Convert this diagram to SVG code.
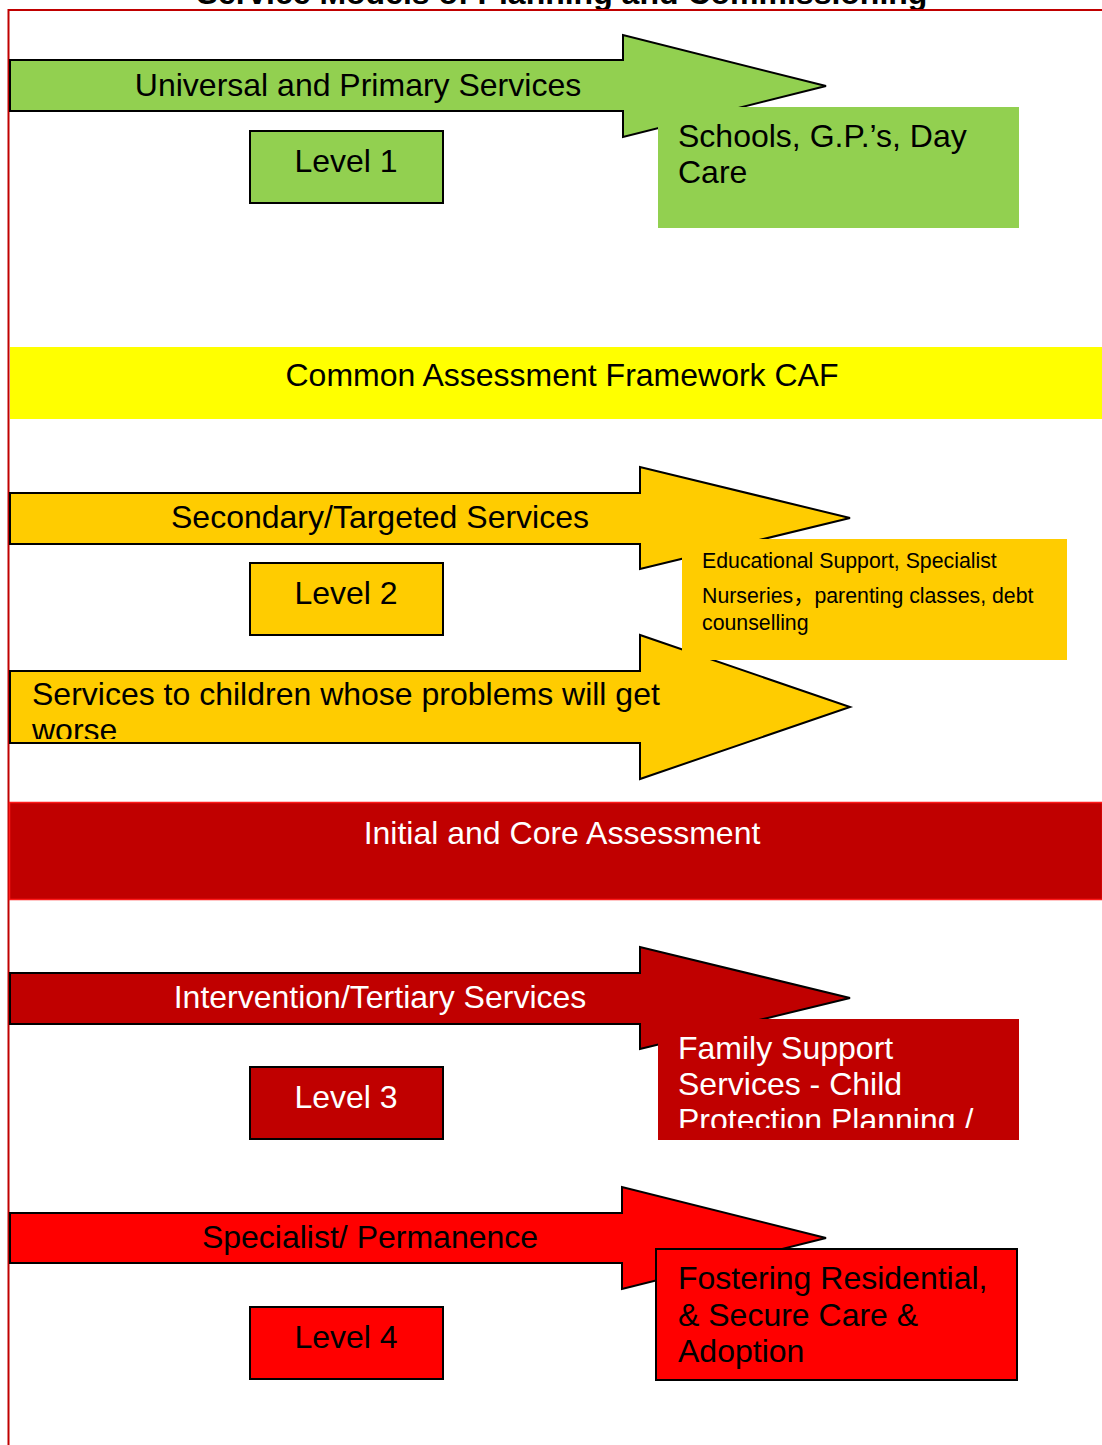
<svg xmlns="http://www.w3.org/2000/svg" width="1102" height="1445" viewBox="0 0 1102 1445">
<style>
text{font-family:"Liberation Sans",Arial,"Noto Sans CJK SC",sans-serif;font-size:32px;fill:#000}
.w{fill:#fff}
.c{text-anchor:middle}
.arr{stroke:#000;stroke-width:2;stroke-linejoin:miter}
.lvl{stroke:#000;stroke-width:2}
.g{fill:#92d050}.o{fill:#ffcc00}.d{fill:#c00000}.r{fill:#ff0000}
.s{font-size:21.3px}
</style>
<defs>
<clipPath id="clipWorse"><rect x="10" y="660" width="700" height="79"/></clipPath>
<clipPath id="clipFam"><rect x="658" y="1019" width="361" height="109"/></clipPath>
</defs>
<rect width="1102" height="1445" fill="#fff"/>
<text class="c" x="562" y="4" style="font-weight:bold;font-size:32px">Service Models of Planning and Commissioning</text>
<g id="frame"><path d="M8.5 1445V10H1102" fill="none" stroke="#c00000" stroke-width="2"/></g>

<g id="connectors">
<g id="arrow-universal">
<polygon class="arr g" points="10,60 623,60 623,35 826,86 623,137 623,111 10,111"/>
<text class="c" x="358" y="96">Universal and Primary Services</text>
</g>
<g id="arrow-secondary">
<polygon class="arr o" points="10,493 640,493 640,467 850,518 640,569 640,544 10,544"/>
<text class="c" x="380" y="528">Secondary/Targeted Services</text>
</g>
<g id="arrow-worse">
<polygon class="arr o" points="10,671 640,671 640,635 850,707 640,779 640,743 10,743"/>
<g clip-path="url(#clipWorse)">
<text x="32" y="705">Services to children whose problems will get</text>
<text x="32" y="741">worse</text>
</g>
</g>
<g id="arrow-intervention">
<polygon class="arr d" points="10,973 640,973 640,947 850,998 640,1049 640,1024 10,1024"/>
<text class="c w" x="380" y="1008">Intervention/Tertiary Services</text>
</g>
<g id="arrow-specialist">
<polygon class="arr r" points="10,1213 622,1213 622,1187 826,1238 622,1289 622,1263 10,1263"/>
<text class="c" x="370" y="1248">Specialist/ Permanence</text>
</g>
</g>

<g id="level1"><rect class="lvl g" x="250" y="131" width="193" height="72"/><text class="c" x="346" y="172">Level 1</text></g>
<g id="schools"><rect class="g" x="658" y="107" width="361" height="121"/><text x="678" y="147">Schools, G.P.’s, Day</text><text x="678" y="183">Care</text></g>

<g id="caf"><rect x="10" y="347" width="1092" height="72" fill="#ffff00"/><text class="c" x="562" y="386">Common Assessment Framework CAF</text></g>

<g id="level2"><rect class="lvl o" x="250" y="563" width="193" height="72"/><text class="c" x="346" y="604">Level 2</text></g>
<g id="educational"><rect class="o" x="682" y="539" width="385" height="121"/>
<text class="s" x="702" y="568">Educational Support, Specialist</text>
<text class="s" x="702" y="603">Nurseries，parenting classes, debt</text>
<text class="s" x="702" y="630">counselling</text></g>

<g id="initial"><rect x="9.5" y="802.5" width="1093" height="97" fill="#c00000" stroke="#ff1a1a" stroke-width="1.5"/><text class="c w" x="562" y="844">Initial and Core Assessment</text></g>

<g id="level3"><rect class="lvl d" x="250" y="1067" width="193" height="72"/><text class="c w" x="346" y="1108">Level 3</text></g>
<g id="family"><rect class="d" x="658" y="1019" width="361" height="121"/>
<g clip-path="url(#clipFam)">
<text class="w" x="678" y="1059">Family Support</text>
<text class="w" x="678" y="1095">Services - Child</text>
<text class="w" x="678" y="1131">Protection Planning /</text>
</g></g>

<g id="level4"><rect class="lvl r" x="250" y="1307" width="193" height="72"/><text class="c" x="346" y="1348">Level 4</text></g>
<g id="fostering"><rect class="r" x="656" y="1249" width="361" height="131" stroke="#000" stroke-width="2"/>
<text x="678" y="1289">Fostering Residential,</text>
<text x="678" y="1326">&amp; Secure Care &amp;</text>
<text x="678" y="1362">Adoption</text></g>
</svg>
